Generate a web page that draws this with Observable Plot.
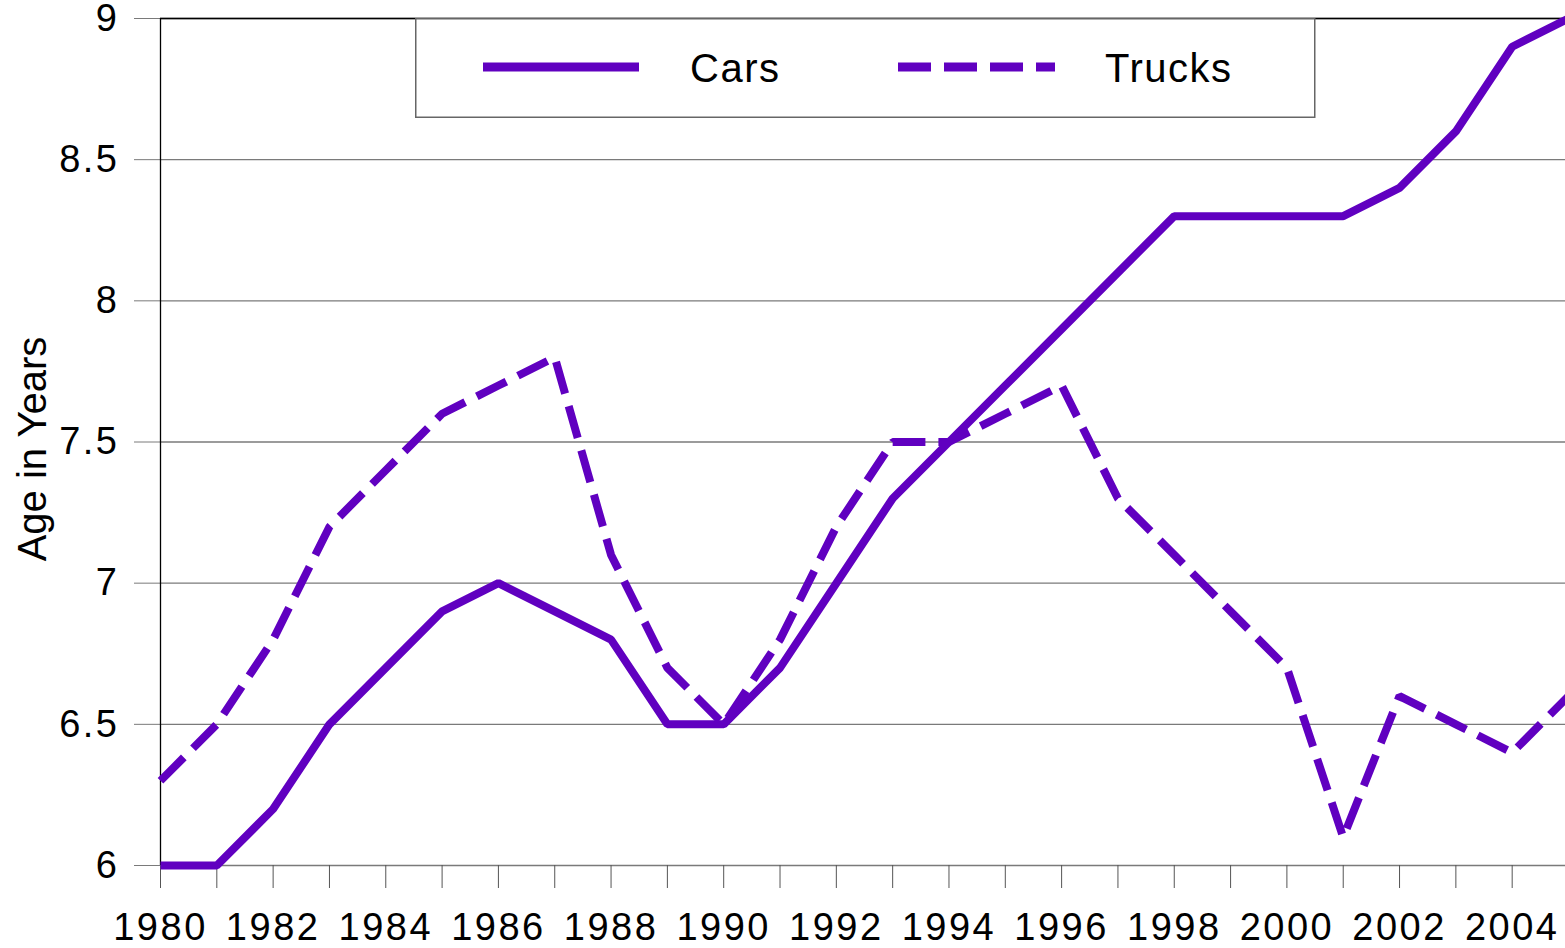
<!DOCTYPE html>
<html>
<head>
<meta charset="utf-8">
<script src="https://cdn.jsdelivr.net/npm/d3@7"></script>
<script src="https://cdn.jsdelivr.net/npm/@observablehq/plot@0.6"></script>
<style>
  html, body { margin: 0; padding: 0; background: #fff; overflow: hidden; }
  #wrap { position: relative; width: 1565px; height: 948px; }
  #legend { position: absolute; left: 415px; top: 18px; }
  svg { font-family: "Liberation Sans", Arial, sans-serif; }
</style>
</head>
<body>
<div id="wrap"></div>
<script>
const years = d3.range(1980, 2006);
const cars   = [6.0, 6.0, 6.2, 6.5, 6.7, 6.9, 7.0, 6.9, 6.8, 6.5, 6.5, 6.7, 7.0, 7.3, 7.5, 7.7, 7.9, 8.1, 8.3, 8.3, 8.3, 8.3, 8.4, 8.6, 8.9, 9.0];
const trucks = [6.3, 6.5, 6.8, 7.2, 7.4, 7.6, 7.7, 7.8, 7.1, 6.7, 6.5, 6.8, 7.2, 7.5, 7.5, 7.6, 7.7, 7.3, 7.1, 6.9, 6.7, 6.1, 6.6, 6.5, 6.4, 6.6];
const seriesNames = ["Cars", "Trucks"];
const yTicks = [6, 6.5, 7, 7.5, 8, 8.5, 9];
const yLabel = "Age in Years";
const lineColor = "#6000C0";
const dashes = {Cars: null, Trucks: "33,13"};

const data = [];
years.forEach((yr, i) => {
  data.push({year: yr, value: cars[i], series: "Cars"});
  data.push({year: yr, value: trucks[i], series: "Trucks"});
});

const chart = Plot.plot({
  width: 1565,
  height: 948,
  marginTop: 18,
  marginBottom: 83,
  marginLeft: 160,
  marginRight: 0,
  style: {fontFamily: "'Liberation Sans', Arial, sans-serif", fontSize: "38px", overflow: "hidden", background: "#fff"},
  x: {domain: [1980, 2005], range: [160, 1568]},
  y: {domain: [6, 9], range: [865, 18]},
  marks: [
    Plot.gridY({ticks: yTicks, stroke: "#7a7a7a", strokeOpacity: 1, strokeWidth: 1.3}),
    Plot.ruleY([9], {stroke: "#000", strokeWidth: 1.3}),
    Plot.axisY({ticks: yTicks, tickSize: 26, tickPadding: 15, stroke: "#7a7a7a", fill: "#000", label: null, fontSize: 38,
      tickFormat: d => String(d)}),
    Plot.axisX({ticks: years, tickSize: 23, tickPadding: 25, stroke: "#555", fill: "#000", label: null, fontSize: 38,
      tickFormat: d => d % 2 === 0 ? String(d) : ""}),
    Plot.ruleX([1980], {stroke: "#000", strokeWidth: 1.3}),
    Plot.text([yLabel], {frameAnchor: "left", textAnchor: "middle", rotate: -90, dx: -127, dy: 7, fontSize: 40, fill: "#000"}),
    ...seriesNames.map(name => Plot.line(data.filter(d => d.series === name), {
      x: "year", y: "value", stroke: lineColor, strokeWidth: 8,
      strokeDasharray: dashes[name], strokeLinejoin: "miter", strokeLinecap: "butt"
    }))
  ]
});
document.getElementById("wrap").appendChild(chart);
d3.select(chart).selectAll("g[aria-label='x-axis tick label'] text, g[aria-label='y-axis tick label'] text")
  .attr("letter-spacing", "2.5px");

// Legend (boxed, overlaid at top of plot)
const lg = d3.select("#wrap").append("svg").attr("id", "legend")
  .attr("width", 901).attr("height", 100);
lg.append("rect").attr("x", 0.75).attr("y", 0.75).attr("width", 899).attr("height", 98.5)
  .attr("fill", "#fff").attr("stroke", "#666").attr("stroke-width", 1.5);
const entries = [
  {name: "Cars", x0: 68, x1: 224, tx: 275},
  {name: "Trucks", x0: 483, x1: 640, tx: 690}
];
entries.forEach(e => {
  lg.append("line").attr("x1", e.x0).attr("x2", e.x1).attr("y1", 49).attr("y2", 49)
    .attr("stroke", lineColor).attr("stroke-width", 9)
    .attr("stroke-dasharray", dashes[e.name]);
  lg.append("text").attr("x", e.tx).attr("y", 64).attr("font-size", 40)
    .attr("letter-spacing", 1.5).attr("fill", "#000").text(e.name);
});
</script>
</body>
</html>
